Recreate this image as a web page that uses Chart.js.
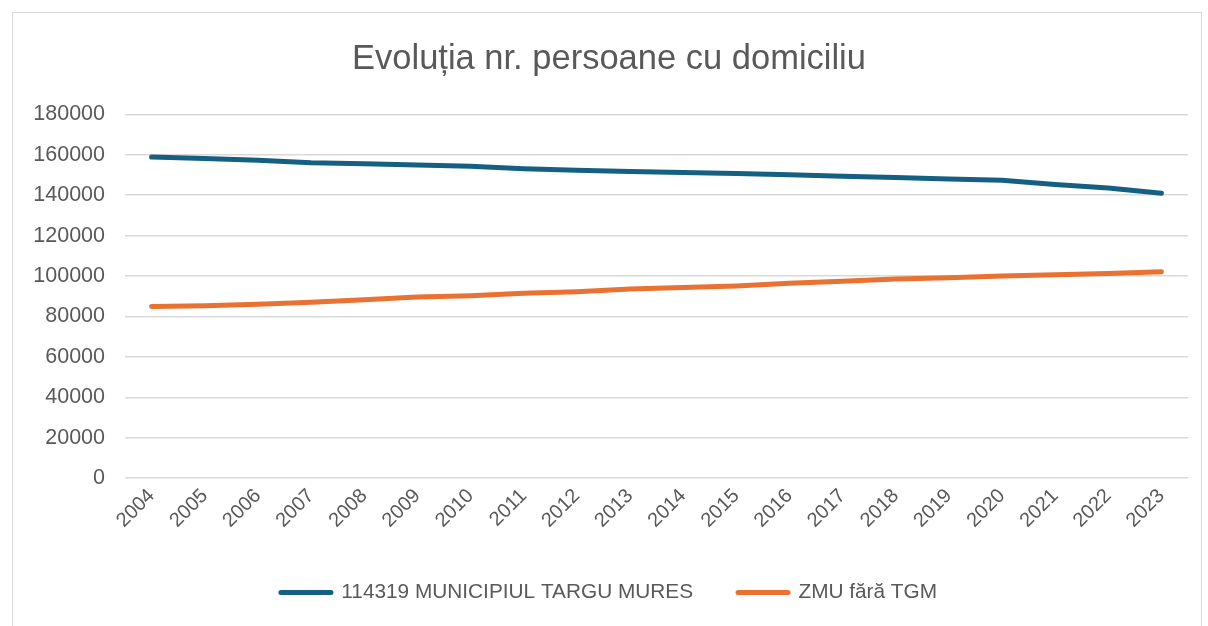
<!DOCTYPE html>
<html>
<head>
<meta charset="utf-8">
<script src="https://cdn.jsdelivr.net/npm/chart.js"></script>
<style>
  html, body { margin: 0; padding: 0; background: #fff; overflow: hidden; }
  #wrap {
    position: absolute; left: 12px; top: 12px;
    width: 1190px; height: 630px;
    box-sizing: border-box; border: 1px solid #d9d9d9;
  }
</style>
</head>
<body>
<div id="wrap"><canvas id="populationChart"></canvas></div>
<script>
// date (estimate)
const years = ['2004', '2005', '2006', '2007', '2008', '2009', '2010', '2011', '2012', '2013',
               '2014', '2015', '2016', '2017', '2018', '2019', '2020', '2021', '2022', '2023'];
const targuMures = [158900, 158200, 157300, 156100, 155600, 155000, 154300, 153100, 152400, 151800,
                    151300, 150700, 150100, 149400, 148800, 148000, 147400, 145300, 143600, 141000];
const zmuFaraTgm = [85000, 85300, 86100, 87100, 88300, 89600, 90300, 91500, 92300, 93600,
                    94300, 95100, 96400, 97400, 98500, 99200, 100000, 100700, 101300, 102200];
const seriesNames = ['114319 MUNICIPIUL TARGU MURES', 'ZMU fără TGM'];
const seriesColors = ['#156082', '#E97132'];
const yMin = 0, yMax = 180000, yStep = 20000;

const textColor = '#595959';
const fontFamily = "'Liberation Sans', Arial, sans-serif";

const ctx = document.getElementById('populationChart').getContext('2d');
new Chart(ctx, {
    type: 'line',
    data: {
        labels: years,
        datasets: [targuMures, zmuFaraTgm].map((values, i) => ({
            label: seriesNames[i],
            data: values,
            borderColor: seriesColors[i],
            backgroundColor: seriesColors[i],
            borderWidth: 5,
            borderCapStyle: 'round',
            borderJoinStyle: 'round',
            pointRadius: 0,
            pointHoverRadius: 0,
            tension: 0
        }))
    },
    options: {
        responsive: true,
        maintainAspectRatio: false,
        animation: false,
        layout: { padding: { left: 17, right: 13, top: 0, bottom: 28 } },
        plugins: {
            title: {
                display: true,
                text: 'Evoluția nr. persoane cu domiciliu',
                color: textColor,
                font: { family: fontFamily, size: 34.5, weight: 'normal' },
                padding: { top: 26, bottom: 34 }
            },
            legend: {
                position: 'bottom',
                labels: {
                    color: textColor,
                    font: { family: fontFamily, size: 20.8 },
                    usePointStyle: true,
                    pointStyle: 'line',
                    pointStyleWidth: 50,
                    padding: 45,
                    generateLabels: chart => Chart.defaults.plugins.legend.labels.generateLabels(chart).map((item, i) => ({
                        ...item,
                        pointStyle: 'line',
                        lineWidth: 5,
                        lineCap: 'round',
                        strokeStyle: seriesColors[i],
                        fillStyle: seriesColors[i]
                    }))
                }
            },
            tooltip: { enabled: false }
        },
        scales: {
            x: {
                offset: true,
                grid: { display: false },
                border: { display: false },
                ticks: {
                    color: textColor,
                    font: { family: fontFamily, size: 20 },
                    minRotation: 45,
                    maxRotation: 45,
                    padding: -2
                },
                afterFit: scale => { scale.height = 59; }
            },
            y: {
                min: yMin,
                max: yMax,
                grid: { color: '#d9d9d9', lineWidth: 1.5, drawTicks: false },
                border: { display: false },
                ticks: {
                    stepSize: yStep,
                    color: textColor,
                    font: { family: fontFamily, size: 21.5 },
                    padding: 20,
                    callback: v => String(v)
                },
                afterFit: scale => { scale.width = 95; }
            }
        }
    }
});
</script>
</body>
</html>
